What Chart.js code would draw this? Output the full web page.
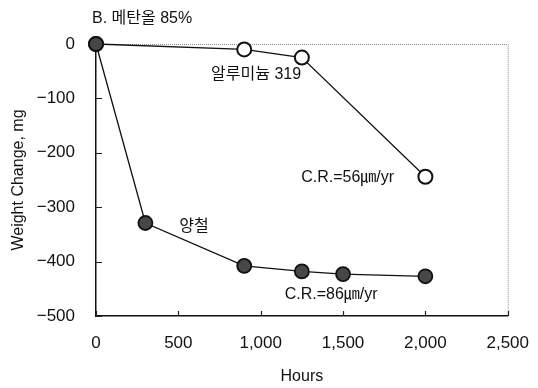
<!DOCTYPE html>
<html>
<head>
<meta charset="utf-8">
<script src="https://cdn.jsdelivr.net/npm/chart.js@4/dist/chart.umd.min.js"></script>
<style>
  html, body { margin: 0; padding: 0; background: #fff; }
  #wrap { width: 538px; height: 388px; position: relative; }
</style>
</head>
<body>
<div id="wrap"><canvas id="c" width="538" height="388"></canvas></div>
<script>
// Exposure time (hours) and weight change (mg) in 85% methanol
const hoursSteel = [0, 300, 900, 1250, 1500, 2000];
const weightSteel = [0, -329, -408, -418, -423, -427];
const hoursAl = [0, 900, 1250, 2000];
const weightAl = [0, -10, -25, -244];

const seriesNames = ['양철', '알루미늄 319'];
const chartTitle = 'B. 메탄올 85%';
const xTitle = 'Hours';
const yTitle = 'Weight Change, mg';

// Text notes placed at data coordinates
const notes = [
  { text: '알루미늄 319', x: 972, y: -57 },
  { text: 'C.R.=56㎛/yr', x: 1528, y: -245 },
  { text: '양철', x: 595, y: -335 },
  { text: 'C.R.=86㎛/yr', x: 1428, y: -460 }
];

const FONT = '"Liberation Sans", Arial, "Noto Sans CJK KR", sans-serif';

function fmtTick(v) {
  if (v < 0) return '\u2212' + Math.abs(v).toLocaleString('en-US');
  return v.toLocaleString('en-US');
}

const toPts = (xs, ys) => xs.map((x, i) => ({ x, y: ys[i] }));

const decor = {
  id: 'decor',
  beforeDatasetsDraw(chart) {
    const { ctx, chartArea: a, scales: { x, y } } = chart;
    ctx.save();
    // light frame on top and right
    ctx.strokeStyle = '#8a8a8a';
    ctx.lineWidth = 1;
    ctx.setLineDash([1, 1]);
    ctx.beginPath();
    ctx.moveTo(a.left, a.top + 0.5);
    ctx.lineTo(a.right + 0.5, a.top + 0.5);
    ctx.lineTo(a.right + 0.5, a.bottom);
    ctx.stroke();
    ctx.setLineDash([]);
    // inward tick marks
    ctx.strokeStyle = '#222';
    ctx.lineWidth = 1.2;
    ctx.beginPath();
    y.ticks.forEach(t => {
      const py = Math.round(y.getPixelForValue(t.value)) + 0.5;
      ctx.moveTo(a.left, py);
      ctx.lineTo(a.left + 6, py);
    });
    x.ticks.forEach(t => {
      const px = Math.round(x.getPixelForValue(t.value)) + 0.5;
      ctx.moveTo(px, a.bottom);
      ctx.lineTo(px, a.bottom - 5);
    });
    ctx.stroke();
    ctx.restore();
  },
  afterDraw(chart) {
    const { ctx, scales: { x, y } } = chart;
    ctx.save();
    ctx.fillStyle = '#111';
    ctx.textBaseline = 'middle';
    ctx.font = '16px ' + FONT;
    ctx.textAlign = 'left';
    ctx.fillText(chartTitle, 92, 19);
    ctx.textAlign = 'center';
    notes.forEach(n => {
      ctx.fillText(n.text, x.getPixelForValue(n.x), y.getPixelForValue(n.y));
    });
    ctx.restore();
  }
};

new Chart(document.getElementById('c'), {
  type: 'line',
  data: {
    datasets: [
      {
        label: seriesNames[0],
        data: toPts(hoursSteel, weightSteel),
        borderColor: '#111',
        borderWidth: 1.3,
        pointRadius: 7,
        pointBackgroundColor: '#474747',
        pointBorderColor: '#111',
        pointBorderWidth: 1.8,
        tension: 0,
        clip: false
      },
      {
        label: seriesNames[1],
        data: toPts(hoursAl, weightAl),
        borderColor: '#111',
        borderWidth: 1.3,
        pointRadius: 7,
        pointBackgroundColor: '#fff',
        pointBorderColor: '#111',
        pointBorderWidth: 2,
        tension: 0,
        clip: false
      }
    ]
  },
  options: {
    responsive: false,
    animation: false,
    devicePixelRatio: 1,
    layout: { padding: { left: 0, right: 30, top: 44, bottom: 0 } },
    plugins: { legend: { display: false }, tooltip: { enabled: false }, title: { display: false } },
    scales: {
      x: {
        type: 'linear',
        min: 0, max: 2500,
        grid: { display: false },
        border: { display: true, color: '#111', width: 1.5 },
        ticks: {
          stepSize: 500,
          padding: 9,
          color: '#111',
          maxRotation: 0,
          font: { family: FONT, size: 17 },
          callback: v => fmtTick(v)
        },
        title: {
          display: true, text: xTitle, color: '#111',
          font: { family: FONT, size: 16 },
          padding: { top: 0, bottom: 2 }
        },
        afterFit(s) { s.height = 72; }
      },
      y: {
        type: 'linear',
        min: -500, max: 0,
        grid: { display: false },
        border: { display: true, color: '#111', width: 1.5 },
        ticks: {
          stepSize: 100,
          padding: 13,
          color: '#111',
          font: { family: FONT, size: 17 },
          callback: v => fmtTick(v)
        },
        title: {
          display: true, text: yTitle, color: '#111',
          font: { family: FONT, size: 16 },
          padding: { top: 9, bottom: 0 }
        },
        afterFit(s) { s.width = 96; }
      }
    }
  },
  plugins: [decor]
});
</script>
</body>
</html>
